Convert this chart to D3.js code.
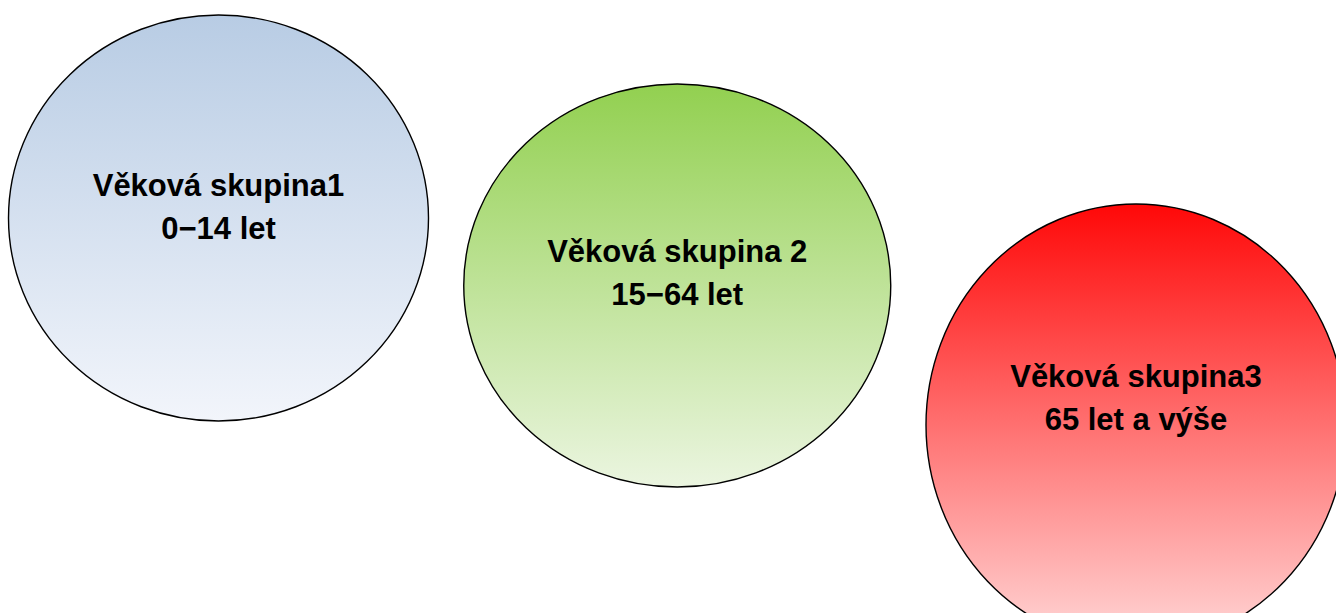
<!DOCTYPE html>
<html>
<head>
<meta charset="utf-8">
<script src="https://cdn.jsdelivr.net/npm/d3@7"></script>
<style>
  html, body { margin: 0; padding: 0; background: #fff; overflow: hidden; }
  svg { display: block; }
</style>
</head>
<body>
<div class="container-viewer"></div>
<script>
// datos: grupos de edad
const groupNames = ['Věková skupina1', 'Věková skupina 2', 'Věková skupina3'];
const ageRanges = ['0\u221214 let', '15\u221264 let', '65 let a výše'];
const topColors = ['#b8cce4', '#92d050', '#ff0808'];
const bottomColors = ['#f2f5fb', '#ebf5e0', '#ffd8d8'];

// layout (posicion vertical de cada circulo y de su texto)
const centerY = [218, 285.5, 425];
const radiusX = [210, 213.5, 210];
const radiusY = [203, 201.5, 221];
const textY = [196, 262, 387];

const width = 1336;
const height = 613;

const svg = d3.select('.container-viewer').append('svg')
  .attr('width', width)
  .attr('height', height);

const x = d3.scalePoint()
  .domain(groupNames)
  .range([218.5, 1136]);

const data = groupNames.map((name, i) => ({
  name, range: ageRanges[i], top: topColors[i], bottom: bottomColors[i],
  cy: centerY[i], rx: radiusX[i], ry: radiusY[i], ty: textY[i], id: 'grad' + i
}));

// gradientes verticales
const defs = svg.append('defs');
const grads = defs.selectAll('linearGradient')
  .data(data)
  .join('linearGradient')
  .attr('id', d => d.id)
  .attr('x1', 0).attr('y1', 0).attr('x2', 0).attr('y2', 1);
grads.append('stop').attr('offset', '0%').attr('stop-color', d => d.top);
grads.append('stop').attr('offset', '100%').attr('stop-color', d => d.bottom);

const g = svg.selectAll('g.group')
  .data(data)
  .join('g')
  .attr('class', 'group');

g.append('ellipse')
  .attr('cx', d => x(d.name))
  .attr('cy', d => d.cy)
  .attr('rx', d => d.rx)
  .attr('ry', d => d.ry)
  .attr('fill', d => `url(#${d.id})`)
  .attr('stroke', '#000')
  .attr('stroke-width', 1.4);

const txt = g.append('text')
  .attr('text-anchor', 'middle')
  .attr('font-family', '"Liberation Sans", Arial, sans-serif')
  .attr('font-weight', 'bold')
  .attr('font-size', 31)
  .attr('fill', '#000');

txt.append('tspan')
  .attr('x', d => x(d.name))
  .attr('y', d => d.ty)
  .text(d => d.name);

txt.append('tspan')
  .attr('x', d => x(d.name))
  .attr('y', d => d.ty + 42.5)
  .text(d => d.range);
</script>
</body>
</html>
